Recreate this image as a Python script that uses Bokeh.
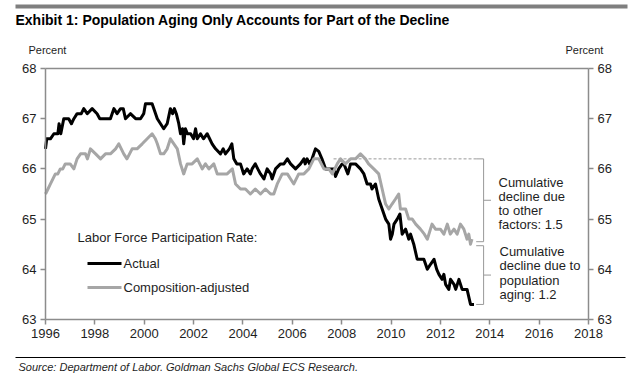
from bokeh.plotting import figure
from bokeh.models import LinearAxis, FixedTicker, Label, Range1d
from bokeh.embed import file_html
from bokeh.resources import INLINE

# ---------------- data ----------------
actual_t = [1996.00, 1996.05, 1996.20, 1996.34, 1996.50, 1996.55, 1996.62, 1996.74, 1996.94, 1997.05,
            1997.15, 1997.28, 1997.45, 1997.55, 1997.69, 1997.89, 1998.09, 1998.20, 1998.36, 1998.63,
            1998.77, 1998.90, 1999.04, 1999.15, 1999.24, 1999.44, 1999.65, 1999.85, 1999.98, 2000.05,
            2000.32, 2000.46, 2000.53, 2000.66, 2000.79, 2000.93, 2001.06, 2001.15, 2001.22, 2001.30,
            2001.40, 2001.47, 2001.55, 2001.60, 2001.67, 2001.75, 2001.88, 2002.00, 2002.08, 2002.15,
            2002.28, 2002.40, 2002.55, 2002.65, 2002.75, 2002.89, 2003.09, 2003.20, 2003.29, 2003.45,
            2003.55, 2003.63, 2003.75, 2003.90, 2004.03, 2004.17, 2004.30, 2004.37, 2004.50, 2004.60,
            2004.71, 2004.85, 2004.98, 2005.12, 2005.18, 2005.32, 2005.52, 2005.66, 2005.80, 2005.93,
            2006.13, 2006.33, 2006.47, 2006.52, 2006.60, 2006.70, 2006.80, 2006.94, 2007.07, 2007.20,
            2007.35, 2007.55, 2007.68, 2007.75, 2007.88, 2008.02, 2008.09, 2008.25, 2008.36, 2008.56,
            2008.76, 2008.90, 2009.03, 2009.17, 2009.23, 2009.37, 2009.50, 2009.64, 2009.78, 2009.91,
            2009.98, 2010.05, 2010.12, 2010.25, 2010.36, 2010.45, 2010.59, 2010.72, 2010.79, 2010.92,
            2011.06, 2011.19, 2011.33, 2011.40, 2011.47, 2011.60, 2011.74, 2011.85, 2011.94, 2012.07,
            2012.14, 2012.21, 2012.34, 2012.41, 2012.55, 2012.62, 2012.75, 2012.88, 2013.00, 2013.08,
            2013.22, 2013.36]
actual_v = [66.4, 66.6, 66.6, 66.7, 66.7, 66.9, 66.7, 67.0, 67.0, 66.9,
            67.0, 67.1, 67.1, 67.2, 67.1, 67.2, 67.1, 67.0, 67.0, 67.0,
            67.2, 67.1, 67.2, 67.2, 67.0, 67.1, 67.0, 67.0, 67.1, 67.3,
            67.3, 67.1, 67.0, 66.9, 66.8, 66.9, 67.2, 67.1, 67.2, 67.1,
            66.9, 66.7, 66.8, 66.5, 66.8, 66.7, 66.7, 66.6, 66.8, 66.6,
            66.7, 66.6, 66.7, 66.6, 66.5, 66.4, 66.3, 66.4, 66.3, 66.4,
            66.5, 66.2, 66.1, 66.1, 65.9, 66.0, 65.9, 66.0, 66.1, 66.0,
            65.9, 65.8, 66.0, 65.9, 65.8, 66.0, 66.1, 66.1, 66.2, 66.1,
            66.0, 66.1, 66.2, 66.1, 66.2, 66.1, 66.2, 66.4, 66.35, 66.2,
            66.0, 66.0, 66.0, 65.85, 66.0, 66.1, 66.1, 65.9, 66.1, 66.1,
            66.0, 65.9, 65.7, 65.7, 65.6, 65.7, 65.4, 65.2, 65.0, 64.9,
            64.6, 64.7, 64.9, 65.0, 65.1, 64.7, 64.8, 64.6, 64.7, 64.5,
            64.2, 64.2, 64.2, 64.1, 64.0, 64.1, 64.2, 64.0, 63.9, 63.8,
            63.9, 63.7, 63.6, 63.8, 63.7, 63.6, 63.8, 63.6, 63.6, 63.6,
            63.3, 63.3]

adjusted_t = [1996.00, 1996.10, 1996.20, 1996.30, 1996.40, 1996.50, 1996.60, 1996.70, 1996.80, 1997.00,
              1997.15, 1997.28, 1997.42, 1997.62, 1997.70, 1997.82, 1998.03, 1998.23, 1998.43, 1998.63,
              1998.84, 1998.97, 1999.17, 1999.30, 1999.51, 1999.71, 1999.92, 2000.12, 2000.32, 2000.45,
              2000.53, 2000.66, 2000.79, 2000.93, 2001.06, 2001.20, 2001.34, 2001.47, 2001.60, 2001.74,
              2001.94, 2002.15, 2002.35, 2002.48, 2002.62, 2002.82, 2002.96, 2003.16, 2003.36, 2003.57,
              2003.70, 2003.90, 2004.10, 2004.30, 2004.50, 2004.71, 2004.91, 2005.12, 2005.25, 2005.39,
              2005.59, 2005.80, 2005.93, 2006.06, 2006.26, 2006.47, 2006.67, 2006.87, 2007.07, 2007.28,
              2007.48, 2007.62, 2007.82, 2007.95, 2008.15, 2008.36, 2008.56, 2008.76, 2008.96, 2009.09,
              2009.30, 2009.50, 2009.64, 2009.78, 2009.91, 2010.04, 2010.18, 2010.31, 2010.38, 2010.45,
              2010.59, 2010.72, 2010.86, 2011.00, 2011.19, 2011.35, 2011.47, 2011.66, 2011.80, 2012.00,
              2012.14, 2012.28, 2012.40, 2012.55, 2012.68, 2012.81, 2012.95, 2013.08, 2013.15, 2013.22,
              2013.28]
adjusted_v = [65.5, 65.6, 65.7, 65.8, 65.9, 65.9, 66.0, 66.0, 66.1, 66.1,
              66.0, 66.2, 66.3, 66.3, 66.2, 66.4, 66.3, 66.2, 66.3, 66.3,
              66.4, 66.5, 66.3, 66.2, 66.4, 66.4, 66.5, 66.6, 66.7, 66.6,
              66.5, 66.3, 66.3, 66.4, 66.6, 66.5, 66.4, 66.1, 65.9, 66.1,
              66.1, 66.2, 66.0, 66.1, 66.0, 66.1, 65.9, 65.9, 65.9, 66.0,
              65.7, 65.6, 65.6, 65.5, 65.6, 65.5, 65.6, 65.5, 65.5, 65.7,
              65.9, 65.9, 65.8, 65.7, 65.9, 65.9, 66.0, 66.2, 66.2, 66.0,
              66.0, 65.9, 66.1, 66.2, 66.1, 66.2, 66.2, 66.3, 66.2, 66.1,
              66.0, 65.9, 65.6, 65.3, 65.2, 65.3, 65.4, 65.5, 65.2, 65.2,
              65.2, 65.0, 65.0, 64.9, 64.8, 64.7, 64.6, 64.9, 64.8, 64.8,
              64.7, 64.9, 64.7, 64.8, 64.7, 64.9, 64.8, 64.6, 64.7, 64.5,
              64.6]

x_ticks = [1996, 1998, 2000, 2002, 2004, 2006, 2008, 2010, 2012, 2014, 2016, 2018]
y_ticks = [63, 64, 65, 66, 67, 68]

peak_level = 66.2      # pre-recession adjusted level (dashed reference)
adjusted_end = 64.55   # where the adjusted series ends
actual_end = 63.3      # where the actual series ends
dash_start = 2007.67

title_text = "Exhibit 1: Population Aging Only Accounts for Part of the Decline"
source_text = "Source: Department of Labor. Goldman Sachs Global ECS Research."

# ---------------- layout ----------------
W, H = 632, 376
X0, X1 = 1996, 2018          # axis box
Y0, Y1 = 63, 68
BOX_L, BOX_R, BOX_T, BOX_B = 45, 588, 68, 319   # axis box in page pixels
kx = (BOX_R - BOX_L) / (X1 - X0)
ky = (BOX_B - BOX_T) / (Y1 - Y0)


def dx(px):
    return X0 + (px - BOX_L) / kx


def dy(py):
    return Y1 - (py - BOX_T) / ky


FONT = "Liberation Sans"
AX = "#8c8c8c"
TXT = "#1e1e1e"
GRAY = "#a6a6a6"

p = figure(width=W, height=H, output_backend="svg", toolbar_location=None, title=None,
           x_range=Range1d(dx(0), dx(W)), y_range=Range1d(dy(H), dy(0)),
           x_axis_location=None, y_axis_location=None,
           min_border_left=0, min_border_right=0, min_border_top=0, min_border_bottom=0)
p.background_fill_color = "white"
p.border_fill_color = "white"
p.outline_line_color = None
p.xgrid.visible = False
p.ygrid.visible = False

bottom = LinearAxis(fixed_location=Y0, bounds=(X0, X1), ticker=FixedTicker(ticks=x_ticks))
left = LinearAxis(fixed_location=X0, bounds=(Y0, Y1), ticker=FixedTicker(ticks=y_ticks))
right = LinearAxis(fixed_location=X1, bounds=(Y0, Y1), ticker=FixedTicker(ticks=y_ticks))
p.add_layout(bottom, "below")
p.add_layout(left, "left")
p.add_layout(right, "right")

for ax in [bottom, left, right]:
    ax.axis_line_color = AX
    ax.axis_line_width = 1.5
    ax.major_tick_line_color = AX
    ax.major_tick_line_width = 1.5
    ax.major_tick_in = 0
    ax.major_tick_out = 5
    ax.minor_tick_line_color = None
    ax.major_label_text_font = FONT
    ax.major_label_text_font_size = "13px"
    ax.major_label_text_color = TXT
    ax.major_label_standoff = 4

# top edge of the box
p.line([X0, X1], [Y1, Y1], line_color=AX, line_width=1.5)

# dashed reference + brackets
p.line([dash_start, 2013.45], [peak_level, peak_level], line_color="#999999", line_width=1, line_dash="3 2")
bx0, bx1, bx2 = 2013.45, 2013.75, 2014.05
up_bot = adjusted_end
lo_top = adjusted_end - 0.08
p.line([bx0, bx1, bx1, bx0], [peak_level, peak_level, up_bot, up_bot], line_color="#999999", line_width=1)
p.line([bx1, bx2], [(peak_level + up_bot) / 2] * 2, line_color="#999999", line_width=1)
p.line([bx0, bx1, bx1, bx0], [lo_top, lo_top, actual_end, actual_end], line_color="#999999", line_width=1)
p.line([bx1, bx2], [(lo_top + actual_end) / 2] * 2, line_color="#999999", line_width=1)

# series
p.line(actual_t, actual_v, line_color="black", line_width=3, line_join="round")
p.line(adjusted_t, adjusted_v, line_color=GRAY, line_width=3, line_join="round")

# legend (manual)
p.line([dx(87), dx(121)], [dy(263), dy(263)], line_color="black", line_width=3)
p.line([dx(87), dx(121)], [dy(287), dy(287)], line_color=GRAY, line_width=3)

# rules of the exhibit frame
p.quad(left=[dx(15)], right=[dx(627)], top=[dy(4)], bottom=[dy(8)],
       fill_color="#7f7f7f", line_color=None)
p.line([dx(15), dx(625)], [dy(357), dy(357)], line_color="black", line_width=1)


def lab(text, px, py, size="13px", style="normal", color=TXT):
    p.add_layout(Label(x=dx(px), y=dy(py), text=text, text_font=FONT, text_font_size=size,
                       text_font_style=style, text_align="left", text_baseline="middle",
                       text_color=color))


lab("Labor Force Participation Rate:", 77, 237)
lab("Actual", 123, 263)
lab("Composition-adjusted", 123, 287)

for i, t in enumerate(["Cumulative", "decline due", "to other", "factors: 1.5"]):
    lab(t, 498, 182 + i * 14)
for i, t in enumerate(["Cumulative", "decline due to", "population", "aging: 1.2"]):
    lab(t, 499, 251 + i * 14.3)

lab(title_text, 15, 19, size="14px", style="bold", color="black")
lab("Percent", 28, 49, size="11px")
lab("Percent", 565, 49, size="11px")
lab(source_text, 18, 366, size="11px", style="italic")

open("out.html", "w").write(file_html(p, INLINE))
